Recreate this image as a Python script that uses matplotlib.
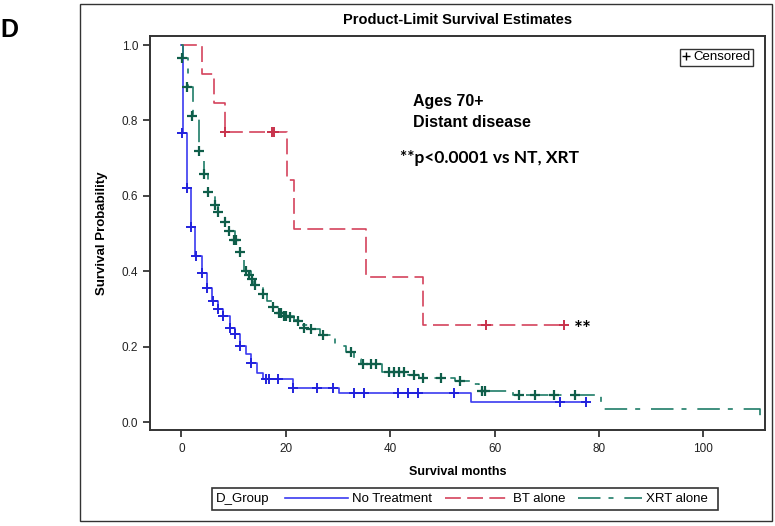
import matplotlib
matplotlib.use("Agg")
import matplotlib.pyplot as plt
from matplotlib.lines import Line2D
from matplotlib.patches import Rectangle

plt.rcParams['font.family'] = ['Liberation Sans Narrow', 'Liberation Sans', 'DejaVu Sans']

# --- data (months, survival probability) ---
nt_t = [0, 0.3, 1.1, 1.9, 2.7, 4.0, 5.0, 5.9, 7.1, 8.0, 9.4, 10.2, 11.2, 12.3, 13.3, 14.4,
        15.6, 21.3, 30.2, 55.4, 77.5]
nt_s = [1.0, 0.767, 0.62, 0.517, 0.44, 0.395, 0.355, 0.322, 0.30, 0.281, 0.249, 0.233, 0.202,
        0.18, 0.157, 0.13, 0.114, 0.09, 0.077, 0.053, 0.053]
nt_cens_t = [0.1, 1.1, 1.9, 2.8, 4.0, 5.0, 6.0, 7.0, 8.0, 9.4, 10.2, 11.2, 13.3, 16.2, 16.8,
             18.5, 21.3, 26.0, 29.0, 33.0, 35.0, 41.5, 43.4, 45.3, 52.3, 72.5, 77.5]
nt_cens_s = [0.767, 0.62, 0.517, 0.44, 0.395, 0.355, 0.322, 0.30, 0.281, 0.249, 0.233, 0.202,
             0.157, 0.114, 0.114, 0.114, 0.09, 0.09, 0.09, 0.077, 0.077, 0.077, 0.077, 0.077,
             0.077, 0.053, 0.053]

bt_t = [0, 4.0, 6.3, 8.3, 20.2, 21.5, 35.4, 46.3, 73.3]
bt_s = [1.0, 0.923, 0.846, 0.769, 0.641, 0.513, 0.385, 0.257, 0.257]
bt_cens_t = [8.3, 17.3, 17.8, 58.3, 73.3]
bt_cens_s = [0.769, 0.769, 0.769, 0.257, 0.257]

xrt_t = [0, 0.3, 1.2, 2.2, 3.3, 4.4, 5.2, 6.4, 7.1, 8.3, 9.2, 10.2, 11.3, 12.1, 13.4, 14.0,
         15.6, 16.5, 17.5, 18.7, 19.6, 21.5, 23.0, 24.5, 26.5, 29.5, 31.5, 33.0, 34.5, 38.5,
         43.5, 45.5, 52.5, 55.6, 57.0, 63.5, 80.3, 110.8]
xrt_s = [1.0, 0.966, 0.889, 0.812, 0.719, 0.658, 0.61, 0.576, 0.557, 0.53, 0.507, 0.483, 0.451,
         0.40, 0.379, 0.363, 0.34, 0.32, 0.305, 0.289, 0.281, 0.27, 0.258, 0.247, 0.231, 0.202,
         0.186, 0.167, 0.154, 0.133, 0.125, 0.118, 0.109, 0.10, 0.082, 0.072, 0.036, 0.0]
xrt_cens_t = [0.1, 1.1, 2.1, 3.3, 4.4, 5.2, 6.4, 7.1, 8.3, 9.2, 10.0, 10.5, 11.3, 12.3, 13.0,
              13.6, 14.2, 15.6, 17.5, 18.7, 19.0, 19.6, 20.0, 20.8, 22.3, 23.5, 24.8, 27.1,
              32.5, 34.8, 36.3, 37.3, 39.8, 40.8, 41.7, 42.7, 44.6, 46.3, 49.8, 53.3, 57.5,
              58.1, 64.6, 67.7, 71.3, 75.4]
xrt_cens_s = [0.966, 0.889, 0.812, 0.719, 0.658, 0.61, 0.576, 0.557, 0.53, 0.507, 0.483, 0.483,
              0.451, 0.40, 0.39, 0.379, 0.363, 0.34, 0.305, 0.289, 0.289, 0.281, 0.281, 0.278,
              0.268, 0.249, 0.247, 0.231, 0.186, 0.154, 0.154, 0.154, 0.133, 0.133, 0.133,
              0.133, 0.125, 0.118, 0.118, 0.109, 0.082, 0.082, 0.072, 0.072, 0.072, 0.072]

x_ticks = [0, 20, 40, 60, 80, 100]
y_ticks = [0.0, 0.2, 0.4, 0.6, 0.8, 1.0]

blue = '#3b3bf0'
red = '#d4435c'
green = '#1f7d68'
red_ls = (0, (9.5, 3.8))
green_ls = (0, (13.5, 4.8, 3.0, 6.5))

fig = plt.figure(figsize=(7.75, 5.26), dpi=100)
ax = fig.add_axes([150 / 775, 96 / 526, 615 / 775, 394 / 526])

ax.step(nt_t, nt_s, where='post', color=blue, lw=1.2)
ax.step(bt_t, bt_s, where='post', color=red, lw=1.2, linestyle=red_ls)
ax.step(xrt_t, xrt_s, where='post', color=green, lw=1.2, linestyle=green_ls)

ax.plot(nt_cens_t, nt_cens_s, ls='', marker='+', ms=7, mew=1.4, color='#2222dd')
ax.plot(bt_cens_t, bt_cens_s, ls='', marker='+', ms=7, mew=1.4, color='#c8324c')
ax.plot(xrt_cens_t, xrt_cens_s, ls='', marker='+', ms=7, mew=1.6, color='#0f5e4a')

ax.set_xlim(-6.0, 111.8)
ax.set_ylim(-0.021, 1.024)
ax.set_xticks(x_ticks)
ax.set_yticks(y_ticks)
ax.set_yticklabels(['%.1f' % v for v in y_ticks])
ax.tick_params(direction='out', length=5, width=1.2, labelsize=8.5, colors='#222222')
ax.tick_params(axis='x', pad=4)
for sp in ax.spines.values():
    sp.set_linewidth(1.4)
    sp.set_color('#333333')

ax.set_xlabel('Survival months', fontsize=9, fontweight='bold', family='Liberation Sans',
              labelpad=8)
ax.set_ylabel('Survival Probability', fontsize=9.5, fontweight='bold', labelpad=10)
ax.set_title('Product-Limit Survival Estimates', fontsize=10.5, fontweight='bold',
             family='Liberation Sans', pad=9)

# censored key box
cens = ax.legend(handles=[Line2D([], [], ls='', marker='+', color='k', ms=6)],
                 labels=['Censored'], loc='upper right', bbox_to_anchor=(0.992, 0.985),
                 handlelength=0.6, handletextpad=0.25, borderpad=0.2, fancybox=False,
                 edgecolor='#333333', fontsize=9.5, framealpha=1)
cens.get_frame().set_linewidth(1.0)

# annotations
fig.text(413 / 775, 1 - 112 / 526, 'Ages 70+\nDistant disease', fontsize=11.5,
         fontweight='bold', family='Liberation Sans', va='center', linespacing=1.5)
fig.text(400 / 775, 1 - 158 / 526, '**p<0.0001 vs NT, XRT', fontsize=12.5, fontweight='bold',
         family='Lato', va='center')
fig.text(574 / 775, 1 - 330 / 526, '**', fontsize=15, fontweight='bold', family='Lato',
         va='center')
fig.text(0, 1 - 30 / 526, 'D', fontsize=18, fontweight='bold', family='Liberation Sans',
         va='center')

# bottom group legend
fig.patches.append(Rectangle((212 / 775, 1 - 510 / 526), 506 / 775, 22 / 526,
                             transform=fig.transFigure, fill=False, lw=1.2,
                             edgecolor='#333333'))
fig.text(216 / 775, 1 - 499 / 526, 'D_Group', fontsize=9.5, va='center')
leg_handles = [Line2D([], [], color=blue, lw=1.2),
               Line2D([], [], color=red, lw=1.2, linestyle=red_ls),
               Line2D([], [], color=green, lw=1.2, linestyle=green_ls)]
fig.legend(handles=leg_handles, labels=['No Treatment', 'BT alone', 'XRT alone'],
           loc='center left', bbox_to_anchor=(285 / 775, 1 - 499 / 526), ncol=3,
           frameon=False, fontsize=9.5, handlelength=4.8, handletextpad=0.3,
           columnspacing=1.0, borderpad=0, borderaxespad=0)

# outer frame
fig.patches.append(Rectangle((80 / 775, 5 / 526), 692 / 775, 517 / 526,
                             transform=fig.transFigure, fill=False, lw=1.0,
                             edgecolor='#333333'))

fig.savefig('out.png', dpi=100)
